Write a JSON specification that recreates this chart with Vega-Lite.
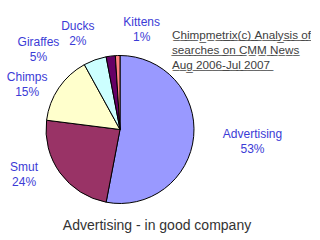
{
  "$schema": "https://vega.github.io/schema/vega-lite/v6.json",
  "padding": 0,
  "background": "white",
  "title": {
    "text": "Advertising - in good company",
    "orient": "bottom",
    "anchor": "middle",
    "frame": "group",
    "offset": -40,
    "dx": 37,
    "font": "Liberation Sans",
    "fontSize": 14,
    "fontWeight": "normal",
    "color": "#333333"
  },
  "config": {"view": {"stroke": null}},
  "vconcat": [
    {
      "width": 240,
      "height": 259,
      "title": {
        "text": [
          "C\u0332h\u0332i\u0332m\u0332p\u0332m\u0332e\u0332t\u0332r\u0332i\u0332x\u0332(\u0332c\u0332)\u0332 \u0332A\u0332n\u0332a\u0332l\u0332y\u0332s\u0332i\u0332s\u0332 \u0332o\u0332f\u0332",
          "s\u0332e\u0332a\u0332r\u0332c\u0332h\u0332e\u0332s\u0332 \u0332o\u0332n\u0332 \u0332C\u0332M\u0332M\u0332 \u0332N\u0332e\u0332w\u0332s\u0332",
          "A\u0332u\u0332g\u0332 \u03322\u03320\u03320\u03326\u0332-\u0332J\u0332u\u0332l\u0332 \u03322\u03320\u03320\u03327\u0332"
        ],
        "orient": "top",
        "anchor": "start",
        "align": "left",
        "baseline": "top",
        "dx": 172,
        "offset": -72,
        "lineHeight": 15,
        "font": "Liberation Sans",
        "fontSize": 11.7,
        "fontWeight": "normal",
        "color": "#404040"
      },
      "data": {
        "values": [
          {"category": "Advertising", "share": 0.53},
          {"category": "Smut", "share": 0.24},
          {"category": "Chimps", "share": 0.15},
          {"category": "Giraffes", "share": 0.05},
          {"category": "Ducks", "share": 0.02},
          {"category": "Kittens", "share": 0.01}
        ]
      },
      "encoding": {
        "theta": {"field": "share", "type": "quantitative", "stack": true},
        "order": {"field": "share", "sort": "descending"}
      },
      "layer": [
        {
          "mark": {"type": "arc", "outerRadius": 74, "stroke": "#000000", "strokeWidth": 1},
          "encoding": {
            "color": {
              "field": "category",
              "type": "nominal",
              "legend": null,
              "scale": {
                "domain": ["Advertising", "Smut", "Chimps", "Giraffes", "Ducks", "Kittens"],
                "range": ["#9999ff", "#993366", "#ffffcc", "#ccffff", "#660066", "#ff8080"]
              }
            }
          }
        },
        {
          "mark": {
            "type": "text",
            "radius": 105,
            "font": "Liberation Sans",
            "fontSize": 12,
            "color": "#3b3bd6",
            "align": "center",
            "baseline": "middle",
            "dx": {"expr": "{'Advertising': 28, 'Smut': -11, 'Chimps': -6, 'Giraffes': -46, 'Ducks': -29, 'Kittens': 25}[datum.category]"},
            "dy": {"expr": "{'Advertising': 2, 'Smut': -17, 'Chimps': 14.5, 'Giraffes': 19, 'Ducks': 8, 'Kittens': 4.5}[datum.category] - 7.5"}
          },
          "encoding": {
            "detail": {"field": "category"},
            "text": {"field": "category"}
          }
        },
        {
          "mark": {
            "type": "text",
            "radius": 105,
            "font": "Liberation Sans",
            "fontSize": 12,
            "color": "#3b3bd6",
            "align": "center",
            "baseline": "middle",
            "dx": {"expr": "{'Advertising': 28, 'Smut': -11, 'Chimps': -6, 'Giraffes': -46, 'Ducks': -29, 'Kittens': 25}[datum.category]"},
            "dy": {"expr": "{'Advertising': 2, 'Smut': -17, 'Chimps': 14.5, 'Giraffes': 19, 'Ducks': 8, 'Kittens': 4.5}[datum.category] + 7.5"}
          },
          "encoding": {
            "detail": {"field": "category"},
            "text": {"field": "share", "type": "quantitative", "format": ".0%"}
          }
        }
      ]
    }
  ]
}
